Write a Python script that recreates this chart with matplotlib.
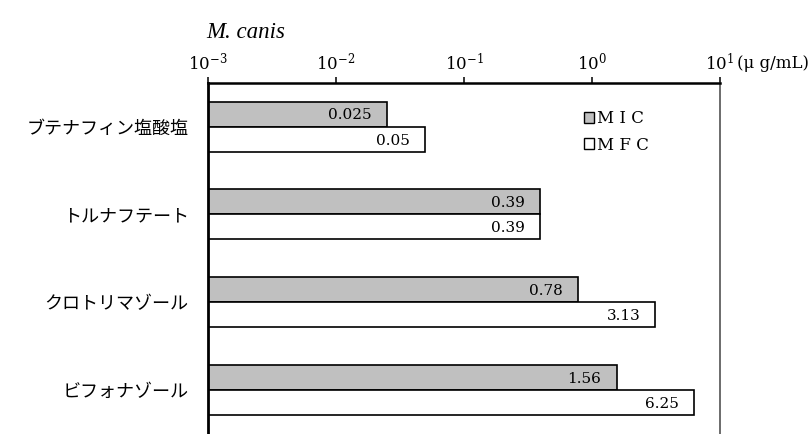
import matplotlib
matplotlib.use("Agg")
import matplotlib.pyplot as plt
from matplotlib.patches import Patch
import numpy as np

# Data: MIC / MFC (ug/mL) against M. canis
drugs = ["ブテナフィン塩酸塩", "トルナフテート", "クロトリマゾール", "ビフォナゾール"]
mic = [0.025, 0.39, 0.78, 1.56]
mfc = [0.05, 0.39, 3.13, 6.25]
mic_labels = ["0.025", "0.39", "0.78", "1.56"]
mfc_labels = ["0.05", "0.39", "3.13", "6.25"]
tick_vals = [1e-3, 1e-2, 1e-1, 1e0, 1e1]
tick_labels = ["$10^{-3}$", "$10^{-2}$", "$10^{-1}$", "$10^{0}$", "$10^{1}$"]

plt.rcParams["mathtext.fontset"] = "dejavuserif"
jp_font = ["Noto Sans CJK JP", "DejaVu Sans"]
serif = "DejaVu Serif"

fig = plt.figure(figsize=(8.11, 4.34), dpi=100)
ax = fig.add_axes([208 / 811, 0, 512 / 811, (434 - 82.7) / 434])

base = 1e-3
bar_h = 0.285
y = np.arange(len(drugs))

mic_bars = ax.barh(y - bar_h / 2, np.array(mic) - base, left=base, height=bar_h,
                   color="#c0c0c0", edgecolor="black", linewidth=1.2)
mfc_bars = ax.barh(y + bar_h / 2, np.array(mfc) - base, left=base, height=bar_h,
                   color="white", edgecolor="black", linewidth=1.2)

# value labels inside the bar ends
for bars, labels in [(mic_bars, mic_labels), (mfc_bars, mfc_labels)]:
    for bar, lab in zip(bars, labels):
        ax.annotate(lab, xy=(bar.get_x() + bar.get_width(), bar.get_y() + bar.get_height() / 2),
                    xytext=(-11, -1), textcoords="offset points",
                    ha="right", va="center", fontsize=11, family=serif)

ax.set_xscale("log")
ax.set_xlim(1e-3, 1e1)
ax.set_ylim(3.5, -0.5)

ax.xaxis.tick_top()
ax.set_xticks(tick_vals)
ax.set_xticklabels(tick_labels, fontsize=12)
ax.xaxis.set_minor_locator(matplotlib.ticker.NullLocator())
ax.tick_params(axis="x", direction="out", length=4.5, width=1.1, pad=2)

ax.set_yticks(y)
ax.set_yticklabels(drugs, family=jp_font, fontsize=13)
ax.tick_params(axis="y", length=0, pad=14)

ax.spines["bottom"].set_visible(False)
ax.spines["left"].set_linewidth(2)
ax.spines["top"].set_linewidth(1.8)
ax.spines["right"].set_color("#606060")
ax.spines["right"].set_linewidth(1.3)

# unit next to the axis labels
fig.text(737 / 811, 1 - 64 / 434, "(μ g/mL)", family=serif, fontsize=12,
         ha="left", va="center")

# title
fig.text(206 / 811, 1 - 33 / 434, "M. canis", family="Liberation Serif",
         style="italic", fontsize=16.5, ha="left", va="center")

handles = [Patch(facecolor="#c0c0c0", edgecolor="black", linewidth=1),
           Patch(facecolor="white", edgecolor="black", linewidth=1)]
ax.legend(handles, ["M I C", "M F C"], loc="upper left",
          bbox_to_anchor=(576 / 811, 1 - 102 / 434), bbox_transform=fig.transFigure,
          frameon=False, handlelength=0.6, handleheight=0.6, handletextpad=0.15,
          labelspacing=0.55, borderpad=0, prop={"family": serif, "size": 12})

fig.savefig("out.png", dpi=100)
